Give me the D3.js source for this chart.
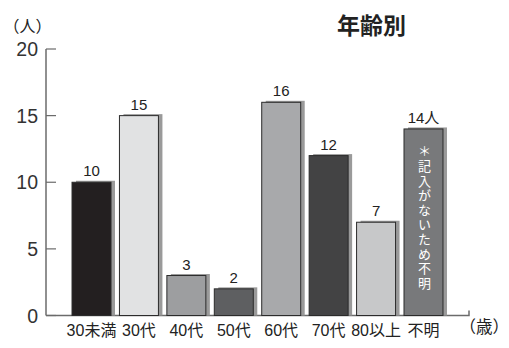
<!DOCTYPE html>
<html>
<head>
<meta charset="utf-8">
<script src="https://cdn.jsdelivr.net/npm/d3@7"></script>
<style>
  body { margin: 0; background: #fff; }
  svg { display: block; font-family: "Liberation Sans", "Noto Sans CJK JP", sans-serif; }
</style>
</head>
<body>
<svg id="chart" width="509" height="348"></svg>
<script>
const categories = ["30未満", "30代", "40代", "50代", "60代", "70代", "80以上", "不明"];
const counts = [10, 15, 3, 2, 16, 12, 7, 14];
const valueLabels = ["10", "15", "3", "2", "16", "12", "7", "14人"];
const barColors = ["#231f20", "#e1e2e3", "#9d9ea0", "#5e5f61", "#a8a9ab", "#434344", "#c7c8c9", "#78797b"];
const yTicks = [0, 5, 10, 15, 20];
const unknownNote = "＊記入がないため不明";

const svg = d3.select("svg#chart");

const x = d3
  .scaleBand()
  .domain(categories)
  .range([67.8, 447.2])
  .paddingInner(0.178)
  .paddingOuter(0.089);

const y = d3.scaleLinear().domain([0, 20]).range([315.5, 49]);

// axes
const axisColor = "#6b6b6b";
svg
  .append("line")
  .attr("x1", 46).attr("x2", 46)
  .attr("y1", y(20)).attr("y2", y(0))
  .attr("stroke", axisColor).attr("stroke-width", 1.5);

svg
  .append("path")
  .attr("d", `M46,${y(0)}H469V${y(0) - 5}`)
  .attr("fill", "none")
  .attr("stroke", axisColor).attr("stroke-width", 1.5);

const ticks = svg.append("g").selectAll("g").data(yTicks).join("g");
ticks
  .append("line")
  .attr("x1", 46).attr("x2", 56)
  .attr("y1", (d) => y(d)).attr("y2", (d) => y(d))
  .attr("stroke", axisColor).attr("stroke-width", 1.2);
ticks
  .append("text")
  .attr("x", 38)
  .attr("y", (d) => y(d) + 7)
  .attr("text-anchor", "end")
  .attr("font-size", 19.5)
  .attr("fill", "#333")
  .text((d) => d);

// bars with drop shadow
const bars = svg
  .append("g")
  .selectAll("g")
  .data(categories.map((c, i) => ({ c, v: counts[i], color: barColors[i], label: valueLabels[i] })))
  .join("g");

bars
  .append("rect")
  .attr("x", (d) => x(d.c) + 4)
  .attr("y", (d) => y(d.v) - 1.5)
  .attr("width", x.bandwidth())
  .attr("height", (d) => y(0) - y(d.v) + 1.5)
  .attr("fill", "#9a9a9a");

bars
  .append("rect")
  .attr("x", (d) => x(d.c))
  .attr("y", (d) => y(d.v))
  .attr("width", x.bandwidth())
  .attr("height", (d) => y(0) - y(d.v))
  .attr("fill", (d) => d.color)
  .attr("stroke", "#2b2b2b")
  .attr("stroke-width", 1);

bars
  .append("text")
  .attr("x", (d) => x(d.c) + x.bandwidth() / 2)
  .attr("y", (d) => y(d.v) - 6)
  .attr("text-anchor", "middle")
  .attr("font-size", 15)
  .attr("fill", "#222")
  .text((d) => d.label);

// category labels
svg
  .append("g")
  .selectAll("text")
  .data(categories)
  .join("text")
  .attr("x", (d) => x(d) + x.bandwidth() / 2)
  .attr("y", 336)
  .attr("text-anchor", "middle")
  .attr("font-size", 16)
  .attr("fill", "#222")
  .text((d) => d);

// vertical note inside 不明 bar
svg
  .append("text")
  .attr("x", x("不明") + x.bandwidth() / 2)
  .attr("y", 145)
  .attr("font-size", 13)
  .attr("fill", "#fff")
  .style("writing-mode", "vertical-rl")
  .style("letter-spacing", "1.6px")
  .text(unknownNote);

// titles and units
svg.append("text")
  .attr("x", 3.5).attr("y", 32)
  .attr("font-size", 16).attr("fill", "#222")
  .text("（人）");

svg.append("text")
  .attr("x", 337).attr("y", 34)
  .attr("font-size", 23).attr("font-weight", "bold").attr("fill", "#222")
  .text("年齢別");

svg.append("text")
  .attr("x", 459.5).attr("y", 333)
  .attr("font-size", 16.5).attr("fill", "#222")
  .text("（歳）");
</script>
</body>
</html>
